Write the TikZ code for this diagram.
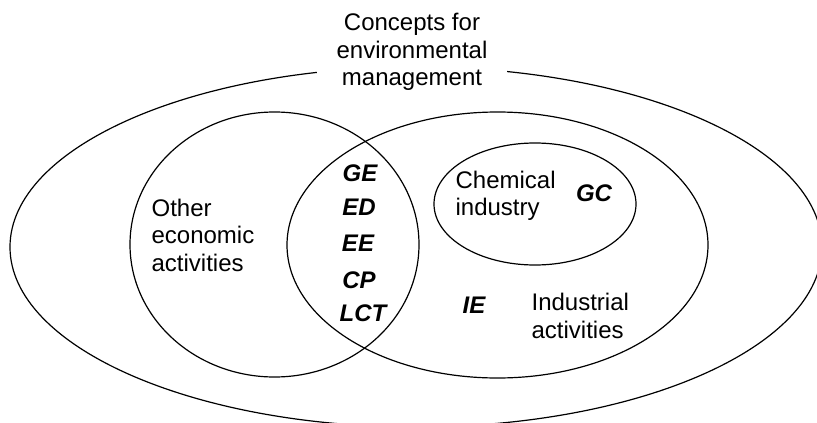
\documentclass[tikz,border=0pt]{standalone}
\usepackage{fontspec}
\setmainfont{Liberation Sans}
\begin{document}
\begin{tikzpicture}[x=1pt,y=-1pt,line width=1.2pt,
  txt/.style={font=\fontsize{24}{27.5}\selectfont, inner sep=0pt, align=left},
  bi/.style={font=\fontsize{24}{27.5}\selectfont\bfseries\itshape, inner sep=0pt}]
\useasboundingbox (0,0) rectangle (817,423);
\clip (0,0) rectangle (817,423);
% outer ellipse
\draw (416,247) ellipse [x radius=406, y radius=180];
\node[txt, align=center, fill=white, minimum width=190pt, inner ysep=4pt] (title) at (412,52) {Concepts for\\environmental\\management};
% left circle
\draw (274.5,244.5) ellipse [x radius=144.5, y radius=132.5];
% right ellipse
\draw (497.5,245) ellipse [x radius=210.5, y radius=133];
% chemical industry ellipse
\draw (535,204) ellipse [x radius=101, y radius=61];
% labels
\node[txt, anchor=west] (other) at (151,235) {Other\\economic\\activities};
\node[bi] (ge) at (360,173) {GE};
\node[bi] (ed) at (359,207) {ED};
\node[bi] (ee) at (358,243) {EE};
\node[bi] (cp) at (359,280) {CP};
\node[bi] (lct) at (363,313) {LCT};
\node[txt, anchor=west] (chem) at (455,196) {Chemical\\industry};
\node[bi] (gc) at (594,193) {GC};
\node[bi] (ie) at (474,305) {IE};
\node[txt, anchor=west] (ind) at (531,316) {Industrial\\activities};
\end{tikzpicture}
\end{document}
